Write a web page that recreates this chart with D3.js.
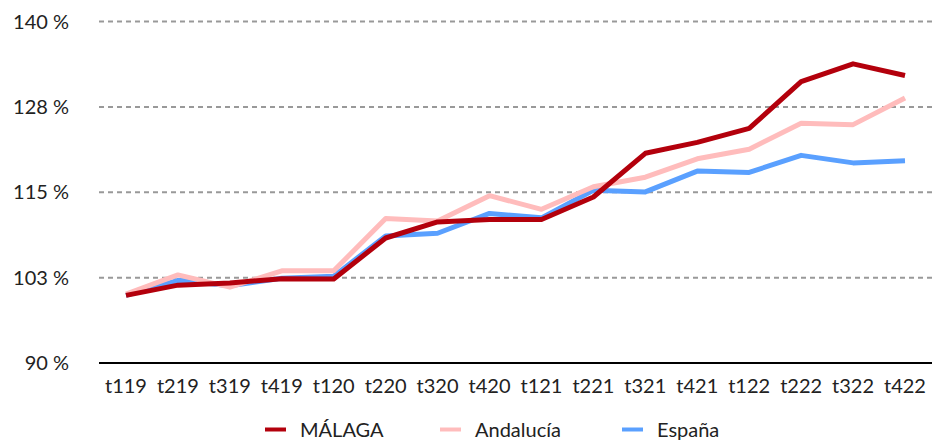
<!DOCTYPE html>
<html>
<head>
<meta charset="utf-8">
<script src="https://cdn.jsdelivr.net/npm/d3@7"></script>
<style>
  body { margin: 0; background: #fff; }
  text { font-family: Lato, "Noto Sans", sans-serif; fill: #222; }
</style>
</head>
<body>
<div id="chart"></div>
<script>
var quarters = ['t119', 't219', 't319', 't419', 't120', 't220', 't320', 't420',
                't121', 't221', 't321', 't421', 't122', 't222', 't322', 't422'];
var malaga    = [99.9, 101.4, 101.7, 102.35, 102.3, 108.3, 110.65, 111.0, 111.0, 114.3, 120.7, 122.3, 124.35, 131.2, 133.8, 132.1];
var andalucia = [100.1, 102.9, 101.1, 103.5, 103.5, 111.15, 110.8, 114.5, 112.5, 115.8, 117.2, 119.9, 121.3, 125.1, 124.9, 128.8];
var espana    = [99.9, 102.1, 101.3, 102.4, 102.7, 108.6, 109.0, 111.9, 111.25, 115.3, 115.05, 118.1, 117.9, 120.4, 119.3, 119.6];
var yTicks = [90, 102.5, 115, 127.5, 140];

var series = [
    {name: 'MÁLAGA', values: malaga, color: '#b3000c'},
    {name: 'Andalucía', values: andalucia, color: '#ffbcbc'},
    {name: 'España', values: espana, color: '#5aa0ff'}
];

var width = 932,
    height = 444;

var svg = d3.select('#chart').append('svg')
    .attr('width', width)
    .attr('height', height);

var x = d3.scalePoint()
    .domain(quarters)
    .range([126, 905]);

var y = d3.scaleLinear()
    .domain([90, 140])
    .range([363, 21.5]);

// grid lines
svg.selectAll('.grid')
    .data(yTicks.slice(1))
    .enter()
    .append('line')
    .attr('x1', 99)
    .attr('x2', width)
    .attr('y1', function(d) { return y(d); })
    .attr('y2', function(d) { return y(d); })
    .attr('stroke', '#999')
    .attr('stroke-width', 2)
    .attr('stroke-dasharray', '5,4');

svg.append('line')
    .attr('x1', 99)
    .attr('x2', width)
    .attr('y1', y(90))
    .attr('y2', y(90))
    .attr('stroke', '#000')
    .attr('stroke-width', 2);

svg.selectAll('.ylab')
    .data(yTicks)
    .enter()
    .append('text')
    .attr('x', 69)
    .attr('y', function(d) { return y(d); })
    .attr('dy', '0.35em')
    .attr('text-anchor', 'end')
    .style('font-size', '20px')
    .text(function(d) { return Math.round(d) + ' %'; });

svg.selectAll('.xlab')
    .data(quarters)
    .enter()
    .append('text')
    .attr('x', function(d) { return x(d); })
    .attr('y', 386)
    .attr('dy', '0.35em')
    .attr('text-anchor', 'middle')
    .style('font-size', '20px')
    .text(function(d) { return d; });

var line = d3.line()
    .x(function(d, i) { return x(quarters[i]); })
    .y(function(d) { return y(d); });

svg.selectAll('.series')
    .data(series.slice().reverse())
    .enter()
    .append('path')
    .attr('fill', 'none')
    .attr('stroke', function(d) { return d.color; })
    .attr('stroke-width', 5)
    .attr('stroke-linejoin', 'round')
    .attr('d', function(d) { return line(d.values); });

// legend
var legendX = [265, 440, 622];
var legend = svg.selectAll('.legend')
    .data(series)
    .enter()
    .append('g')
    .attr('transform', function(d, i) { return 'translate(' + legendX[i] + ',429.5)'; });

legend.append('line')
    .attr('x1', 0)
    .attr('x2', 21)
    .attr('stroke', function(d) { return d.color; })
    .attr('stroke-width', 4);

legend.append('text')
    .attr('x', 35)
    .attr('dy', '0.35em')
    .style('font-size', '20px')
    .text(function(d) { return d.name; });
</script>
</body>
</html>
